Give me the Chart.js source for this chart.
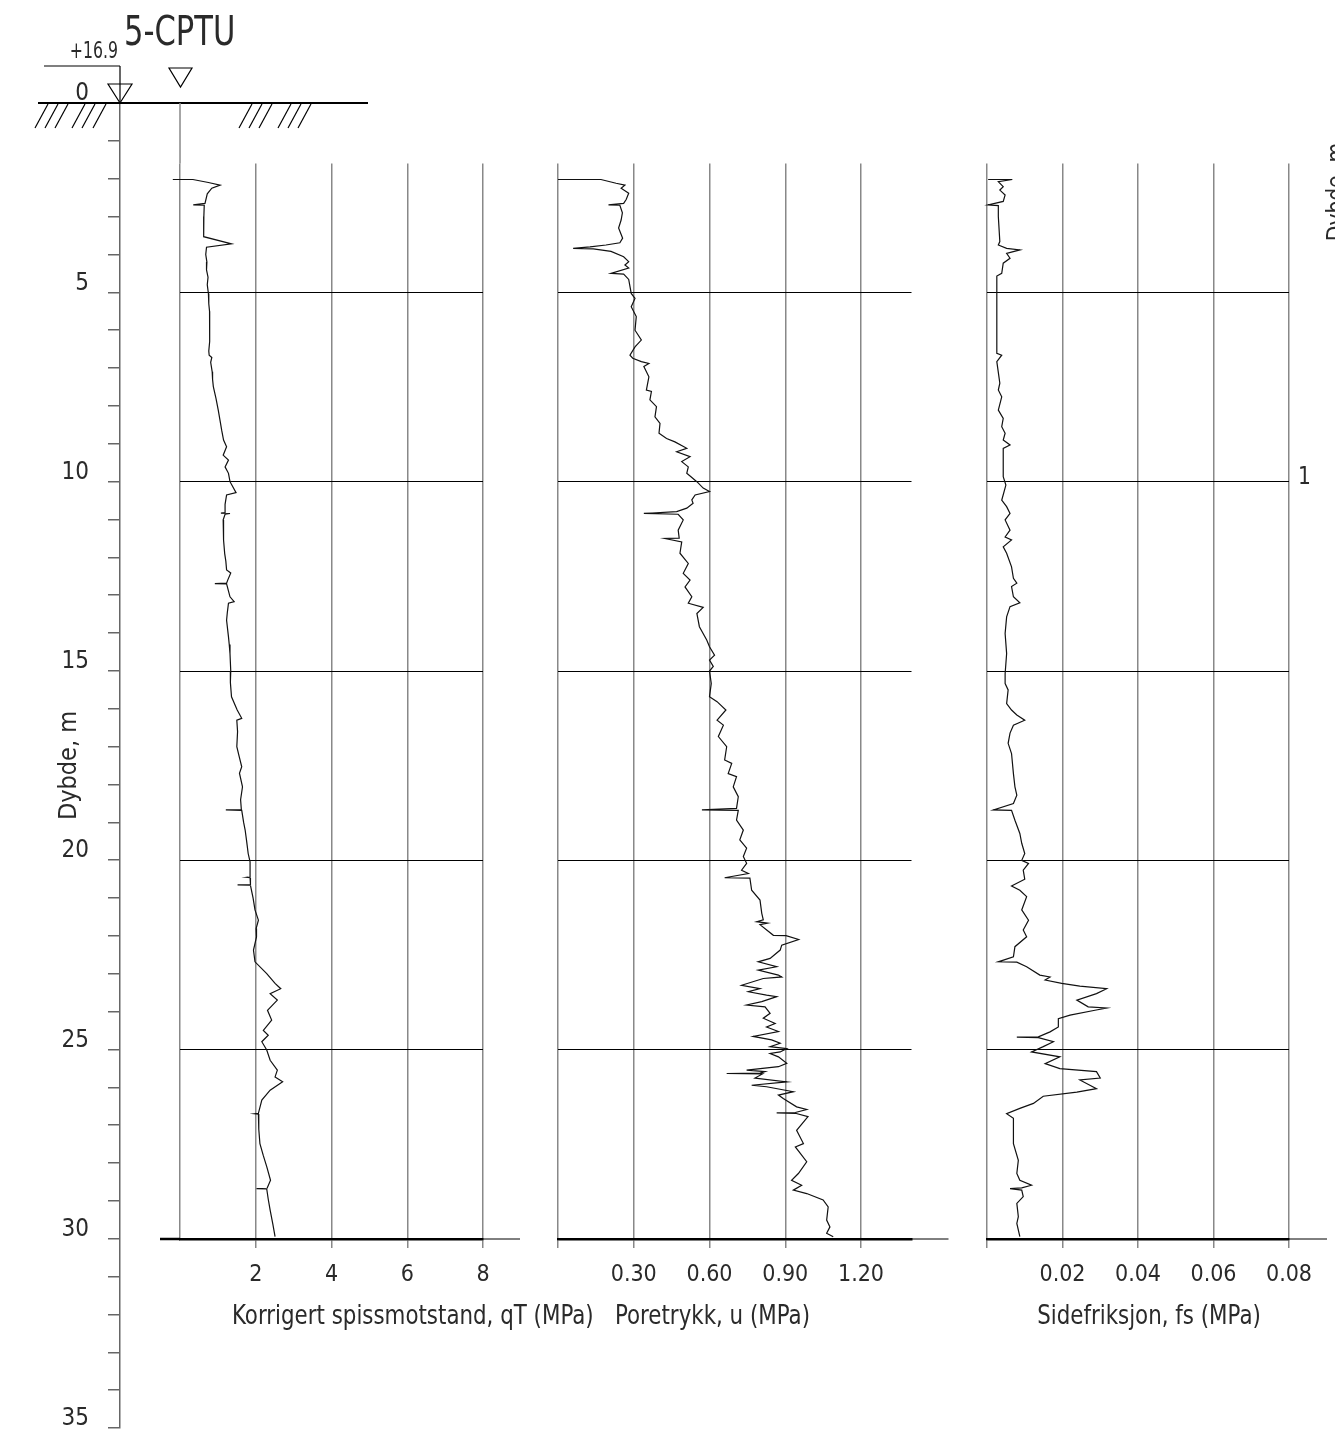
<!DOCTYPE html>
<html>
<head>
<meta charset="utf-8">
<title>5-CPTU</title>
<script src="https://cdn.jsdelivr.net/npm/chart.js@4.4.9/dist/chart.umd.min.js"></script>
<style>
  html, body { margin: 0; padding: 0; background: #fff; }
  #page { position: relative; width: 1335px; height: 1439px; overflow: hidden; }
  #page canvas { position: absolute; left: 0; top: 0; }
</style>
</head>
<body>
<div id="page">
  <canvas id="depth-chart" width="1335" height="1439"></canvas>
  <canvas id="qt-chart" width="1335" height="1439"></canvas>
  <canvas id="u-chart" width="1335" height="1439"></canvas>
  <canvas id="fs-chart" width="1335" height="1439"></canvas>
</div>
<script>
// --- data (depth in m, values in MPa) ---
const qtDepth = [2.02, 2.02, 2.10, 2.17, 2.25, 2.40, 2.65, 2.69, 2.70, 3.0, 3.3, 3.53, 3.72, 3.81, 4.0, 4.2, 4.41, 4.6, 4.8, 5.03,
  5.3, 5.5, 5.73, 6.0, 6.3, 6.55, 6.66, 6.72, 6.85, 7.1, 7.3, 7.49, 7.8, 8.11, 8.4, 8.64, 8.9, 9.08, 9.30, 9.43,
  9.61, 9.78, 10.0, 10.29, 10.35, 10.6, 10.82, 10.83, 10.84, 10.86, 11.01, 11.25, 11.54, 11.9, 12.1, 12.33, 12.41, 12.6, 12.68, 12.69,
  12.70, 13.04, 13.17, 13.21, 13.45, 13.66, 14.1, 14.3, 14.54, 15.0, 15.3, 15.68, 16.03, 16.25, 16.30, 16.6, 17.0, 17.25, 17.53, 17.7,
  18.06, 18.4, 18.66, 18.67, 18.68, 19.0, 19.2, 19.5, 19.82, 20.04, 20.44, 20.45, 20.46, 20.64, 20.65, 20.66, 21.0, 21.31, 21.58, 21.8,
  22.02, 22.37, 22.68, 22.99, 23.25, 23.39, 23.52, 23.69, 23.96, 24.22, 24.49, 24.62, 24.79, 25.01, 25.28, 25.54, 25.72, 25.85, 26.07, 26.33,
  26.68, 26.69, 26.70, 27.1, 27.48, 27.8, 28.09, 28.45, 28.66, 28.67, 28.68, 28.95, 29.24, 29.6, 29.94];
const qtValue = [-0.19, 0.34, 0.75, 1.06, 0.84, 0.72, 0.66, 0.35, 0.64, 0.63, 0.62, 0.63, 1.36, 0.70, 0.68, 0.71, 0.70, 0.74, 0.72, 0.75,
  0.76, 0.78, 0.79, 0.77, 0.79, 0.76, 0.77, 0.84, 0.81, 0.85, 0.86, 0.88, 0.95, 1.01, 1.06, 1.10, 1.15, 1.23, 1.14, 1.28,
  1.19, 1.28, 1.32, 1.48, 1.23, 1.19, 1.19, 1.08, 1.32, 1.19, 1.14, 1.16, 1.14, 1.18, 1.21, 1.23, 1.34, 1.26, 1.23, 0.92,
  1.23, 1.32, 1.43, 1.28, 1.25, 1.23, 1.28, 1.30, 1.32, 1.34, 1.33, 1.36, 1.51, 1.63, 1.50, 1.52, 1.50, 1.56, 1.63, 1.57,
  1.65, 1.60, 1.62, 1.21, 1.63, 1.68, 1.72, 1.76, 1.80, 1.85, 1.85, 1.76, 1.85, 1.86, 1.52, 1.86, 1.93, 1.98, 2.07, 2.01,
  2.02, 1.94, 1.98, 2.29, 2.51, 2.66, 2.38, 2.57, 2.31, 2.42, 2.20, 2.33, 2.16, 2.29, 2.38, 2.57, 2.51, 2.71, 2.38, 2.16,
  2.07, 1.98, 2.07, 2.08, 2.11, 2.20, 2.29, 2.39, 2.30, 2.02, 2.29, 2.33, 2.38, 2.45, 2.51];

const uDepth = [2.02, 2.02, 2.12, 2.17, 2.25, 2.38, 2.55, 2.65, 2.69, 2.70, 2.9, 3.09, 3.3, 3.57, 3.69, 3.75, 3.80, 3.84, 3.85, 3.92,
  4.06, 4.19, 4.28, 4.36, 4.50, 4.52, 4.66, 5.03, 5.16, 5.38, 5.64, 6.0, 6.26, 6.44, 6.66, 6.74, 6.83, 6.88, 6.96, 7.23,
  7.58, 7.62, 7.84, 8.02, 8.29, 8.46, 8.72, 8.86, 8.95, 9.12, 9.21, 9.34, 9.47, 9.61, 9.78, 10.0, 10.17, 10.26, 10.35, 10.48,
  10.57, 10.70, 10.79, 10.84, 10.86, 11.01, 11.28, 11.49, 11.50, 11.59, 11.89, 12.16, 12.42, 12.6, 12.78, 13.04, 13.21, 13.32, 13.48, 13.83,
  14.18, 14.36, 14.58, 14.71, 14.88, 15.0, 15.33, 15.68, 15.81, 16.03, 16.3, 16.43, 16.73, 17.0, 17.35, 17.44, 17.71, 17.79, 18.06, 18.32,
  18.63, 18.67, 18.68, 18.94, 19.2, 19.46, 19.68, 19.9, 20.08, 20.26, 20.35, 20.46, 20.47, 20.79, 21.05, 21.4, 21.57, 21.62, 21.66, 21.70,
  21.98, 21.99, 22.09, 22.24, 22.37, 22.59, 22.68, 22.81, 22.90, 23.03, 23.08, 23.12, 23.30, 23.39, 23.47, 23.56, 23.60, 23.73, 23.82, 23.87,
  24.04, 24.17, 24.31, 24.40, 24.52, 24.65, 24.74, 24.83, 24.92, 24.97, 25.06, 25.10, 25.19, 25.36, 25.45, 25.54, 25.58, 25.62, 25.63, 25.64,
  25.75, 25.85, 25.94, 25.98, 26.11, 26.20, 26.29, 26.51, 26.58, 26.66, 26.67, 26.68, 26.77, 27.13, 27.48, 27.57, 27.96, 28.27, 28.45, 28.58,
  28.71, 28.80, 28.97, 29.15, 29.50, 29.68, 29.85, 29.94];
const uValue = [0.0, 0.17, 0.23, 0.265, 0.25, 0.28, 0.27, 0.26, 0.20, 0.245, 0.255, 0.25, 0.24, 0.256, 0.245, 0.19, 0.127, 0.06, 0.14, 0.21,
  0.26, 0.28, 0.265, 0.28, 0.21, 0.26, 0.28, 0.29, 0.305, 0.29, 0.31, 0.305, 0.33, 0.305, 0.285, 0.296, 0.33, 0.36, 0.34, 0.36,
  0.35, 0.37, 0.364, 0.39, 0.384, 0.404, 0.40, 0.43, 0.463, 0.51, 0.47, 0.523, 0.49, 0.516, 0.51, 0.55, 0.575, 0.60, 0.543, 0.53,
  0.535, 0.51, 0.47, 0.34, 0.476, 0.496, 0.476, 0.48, 0.424, 0.49, 0.483, 0.516, 0.496, 0.523, 0.503, 0.53, 0.516, 0.575, 0.55, 0.56,
  0.589, 0.60, 0.62, 0.60, 0.615, 0.60, 0.607, 0.60, 0.63, 0.665, 0.63, 0.655, 0.635, 0.668, 0.66, 0.688, 0.674, 0.707, 0.694, 0.714,
  0.707, 0.57, 0.714, 0.707, 0.734, 0.72, 0.747, 0.734, 0.747, 0.727, 0.754, 0.66, 0.76, 0.767, 0.80, 0.807, 0.813, 0.787, 0.83, 0.80,
  0.853, 0.903, 0.953, 0.886, 0.88, 0.84, 0.793, 0.866, 0.793, 0.873, 0.886, 0.813, 0.727, 0.80, 0.754, 0.826, 0.866, 0.807, 0.747, 0.82,
  0.84, 0.813, 0.86, 0.826, 0.873, 0.773, 0.846, 0.88, 0.84, 0.906, 0.88, 0.84, 0.873, 0.906, 0.873, 0.747, 0.82, 0.80, 0.668, 0.81,
  0.78, 0.906, 0.767, 0.826, 0.932, 0.873, 0.892, 0.945, 0.985, 0.94, 0.866, 0.94, 0.99, 0.945, 0.972, 0.94, 0.985, 0.952, 0.925, 0.965,
  0.932, 0.985, 1.05, 1.07, 1.064, 1.077, 1.064, 1.09];

const fsDepth = [2.02, 2.02, 2.08, 2.21, 2.30, 2.43, 2.60, 2.69, 2.71, 3.0, 3.66, 3.75, 3.84, 3.88, 3.97, 4.10, 4.23, 4.50, 4.57, 6.61,
  6.66, 6.83, 7.40, 7.58, 7.76, 8.11, 8.33, 8.55, 8.72, 8.90, 9.03, 9.12, 9.87, 10.09, 10.49, 10.66, 10.84, 11.01, 11.28, 11.46,
  11.54, 11.72, 11.89, 12.25, 12.55, 12.68, 12.77, 13.04, 13.20, 13.30, 13.57, 14.01, 14.54, 15.07, 15.33, 15.50, 15.86, 16.03, 16.16, 16.30,
  16.43, 16.64, 16.91, 17.18, 17.71, 18.06, 18.28, 18.50, 18.67, 18.68, 18.94, 19.29, 19.55, 19.82, 20.00, 20.08, 20.26, 20.50, 20.68, 20.79,
  20.96, 21.31, 21.58, 21.84, 22.02, 22.28, 22.55, 22.68, 22.69, 22.81, 23.03, 23.08, 23.16, 23.25, 23.32, 23.39, 23.52, 23.69, 23.87, 23.90,
  23.96, 24.09, 24.18, 24.40, 24.53, 24.66, 24.67, 24.68, 24.79, 24.92, 25.06, 25.19, 25.37, 25.50, 25.58, 25.75, 25.80, 26.03, 26.12, 26.23,
  26.42, 26.55, 26.69, 26.81, 27.48, 27.92, 28.27, 28.45, 28.58, 28.65, 28.67, 28.71, 28.88, 29.06, 29.41, 29.59, 29.94];
const fsValue = [0.0003, 0.0067, 0.0030, 0.0043, 0.0034, 0.0048, 0.0043, 0.0003, 0.0030, 0.0030, 0.0034, 0.0030, 0.0052, 0.0087, 0.0052, 0.0061, 0.0043, 0.0039, 0.0026, 0.0026,
  0.0039, 0.0026, 0.0034, 0.0030, 0.0039, 0.0030, 0.0043, 0.0039, 0.0048, 0.0043, 0.0061, 0.0043, 0.0043, 0.0050, 0.0039, 0.0052, 0.0061, 0.0048, 0.0061, 0.0048,
  0.0065, 0.0043, 0.0052, 0.0065, 0.0070, 0.0079, 0.0065, 0.0070, 0.0087, 0.0061, 0.0052, 0.0048, 0.0052, 0.0048, 0.0048, 0.0056, 0.0052, 0.0065, 0.0079, 0.0100,
  0.0070, 0.0061, 0.0056, 0.0065, 0.0070, 0.0074, 0.0079, 0.0070, 0.0017, 0.0065, 0.0074, 0.0087, 0.0092, 0.0100, 0.0092, 0.0110, 0.0096, 0.0100, 0.0065, 0.0087,
  0.0105, 0.0092, 0.0110, 0.0096, 0.0105, 0.0074, 0.0070, 0.0030, 0.0079, 0.0105, 0.0140, 0.0167, 0.0154, 0.0198, 0.0246, 0.0317, 0.0290, 0.0238, 0.0268, 0.0317,
  0.0286, 0.0220, 0.0189, 0.0189, 0.0167, 0.0136, 0.0079, 0.0136, 0.0176, 0.0149, 0.0118, 0.0193, 0.0154, 0.0193, 0.0290, 0.0300, 0.0246, 0.0290, 0.0238, 0.0149,
  0.0123, 0.0087, 0.0052, 0.0070, 0.0070, 0.0083, 0.0079, 0.0087, 0.0118, 0.0092, 0.0061, 0.0092, 0.0096, 0.0079, 0.0083, 0.0079, 0.0087];

// --- axes ---
const depthTicks = [0, 1, 2, 3, 4, 5, 6, 7, 8, 9, 10, 11, 12, 13, 14, 15, 16, 17, 18, 19, 20, 21, 22, 23, 24, 25, 26, 27, 28, 29, 30, 31, 32, 33, 34, 35];
const depthLabels = [0, 5, 10, 15, 20, 25, 30, 35];
const depthGrid = [5, 10, 15, 20, 25];

const qtTicks = [0, 2, 4, 6, 8];
const qtLabels = ['', '2', '4', '6', '8'];
const uTicks = [0, 0.3, 0.6, 0.9, 1.2];
const uLabels = ['', '0.30', '0.60', '0.90', '1.20'];
const fsTicks = [0, 0.02, 0.04, 0.06, 0.08];
const fsLabels = ['', '0.02', '0.04', '0.06', '0.08'];

// --- layout ---
const W = 1335, H = 1439;
const FONT = '"DejaVu Sans Condensed", "Liberation Sans Narrow", sans-serif';
const TEXT = '#2a2a2a';
const GRID = '#888';
const TOP_PX = 103;         // depth 0
const BOTTOM_PX = 1239;     // depth 30
const PANEL_MIN = 1.6;      // grid lines start here
const PX_PER_M = (BOTTOM_PX - TOP_PX) / 30;
const AXIS_H = 60;

const font = (size) => ({ family: FONT, size: size });

const strokeLine = (ctx, x1, y1, x2, y2) => {
    ctx.beginPath();
    ctx.moveTo(x1, y1);
    ctx.lineTo(x2, y2);
    ctx.stroke();
};

// the drawing font is narrower than anything installed, so squeeze it a bit
const drawText = (ctx, text, x, y, size, align, sx) => {
    ctx.save();
    ctx.translate(x, y);
    ctx.scale(sx, 1);
    ctx.font = size + 'px ' + FONT;
    ctx.textAlign = align;
    ctx.textBaseline = 'alphabetic';
    ctx.fillText(text, 0, 0);
    ctx.restore();
};

const headerPlugin = {
    id: 'header',
    afterDraw(chart) {
        const ctx = chart.ctx;
        const y0 = chart.scales.y.getPixelForValue(0);
        ctx.save();
        ctx.strokeStyle = '#000';
        ctx.fillStyle = TEXT;

        // ground line
        ctx.lineWidth = 2;
        strokeLine(ctx, 38, y0, 368, y0);

        // hatches
        ctx.lineWidth = 1.2;
        [35, 45, 55, 72, 82, 93, 239, 249, 259, 278, 288, 298].forEach(x => {
            strokeLine(ctx, x, y0 + 25, x + 13, y0 + 1);
        });

        // elevation marker
        strokeLine(ctx, 44, y0 - 37, 120, y0 - 37);
        strokeLine(ctx, 120, y0 - 37, 120, y0);
        ctx.beginPath();
        ctx.moveTo(108, y0 - 19); ctx.lineTo(132, y0 - 19); ctx.lineTo(120, y0); ctx.closePath();
        ctx.stroke();
        ctx.beginPath();
        ctx.moveTo(169, y0 - 35); ctx.lineTo(192, y0 - 35); ctx.lineTo(180.5, y0 - 16); ctx.closePath();
        ctx.stroke();

        drawText(ctx, '+16.9', 118, 58, 23, 'right', 0.76);
        drawText(ctx, '5-CPTU', 124, 45, 40, 'left', 0.85);

        // neighbouring log cut at the right edge
        drawText(ctx, '1', 1298, 484, 25, 'left', 0.9);
        ctx.save();
        ctx.translate(1344, 192);
        ctx.rotate(-Math.PI / 2);
        drawText(ctx, 'Dybde, m', 0, 0, 25, 'center', 0.9);
        ctx.restore();

        ctx.restore();
    }
};

const depthChart = new Chart(document.getElementById('depth-chart'), {
    type: 'line',
    data: { datasets: [] },
    options: {
        responsive: false,
        animation: false,
        events: [],
        layout: { padding: { left: 0, right: W - 121, top: TOP_PX, bottom: H - 1428 } },
        plugins: { legend: { display: false }, tooltip: { enabled: false } },
        scales: {
            x: { type: 'linear', display: false, min: 0, max: 1 },
            y: {
                type: 'linear',
                position: 'left',
                reverse: true,
                min: 0,
                max: 35,
                afterFit(s) { s.width = 120; s.paddingTop = 0; s.paddingBottom = 0; },
                afterBuildTicks(s) { s.ticks = depthTicks.map(v => ({ value: v })); },
                ticks: {
                    autoSkip: false,
                    callback: (v) => depthLabels.includes(v) ? String(v) : '',
                    font: font(24),
                    color: TEXT,
                    padding: 19,
                    labelOffset: -9
                },
                grid: { drawOnChartArea: false, drawTicks: true, tickLength: 12, color: '#666', lineWidth: 1.5 },
                border: { display: true, color: '#666', width: 1.5 },
                title: { display: true, text: 'Dybde, m', font: font(25), color: TEXT, padding: { top: 54 } }
            }
        }
    },
    plugins: [headerPlugin]
});

const panelChart = (id, cfg) => {
    const decor = {
        id: 'panelDecor',
        afterDraw(chart) {
            const ctx = chart.ctx;
            const area = chart.chartArea;
            const xs = chart.scales.x, ys = chart.scales.y;
            ctx.save();
            if (cfg.bore) {
                ctx.strokeStyle = GRID;
                ctx.lineWidth = 1.5;
                strokeLine(ctx, xs.getPixelForValue(0), ys.getPixelForValue(0), xs.getPixelForValue(0), area.top);
            }
            ctx.strokeStyle = '#000';
            if (cfg.extLeft) {
                ctx.lineWidth = 2.5;
                strokeLine(ctx, area.left - cfg.extLeft, area.bottom, area.left, area.bottom);
            }
            ctx.lineWidth = 1;
            strokeLine(ctx, area.right, area.bottom, area.right + cfg.extRight, area.bottom);

            ctx.fillStyle = TEXT;
            drawText(ctx, cfg.title, cfg.titleX, 1324, 27, cfg.titleAlign, 0.88);
            ctx.restore();
        }
    };

    return new Chart(document.getElementById(id), {
        type: 'line',
        data: {
            datasets: [{
                data: cfg.depth.map((d, i) => ({ x: cfg.values[i], y: d })),
                borderColor: '#111',
                borderWidth: 1.2,
                pointRadius: 0,
                tension: 0,
                clip: false
            }]
        },
        options: {
            responsive: false,
            animation: false,
            events: [],
            indexAxis: 'y',
            layout: {
                padding: {
                    left: cfg.left,
                    right: W - cfg.right,
                    top: TOP_PX + PANEL_MIN * PX_PER_M,
                    bottom: H - BOTTOM_PX - AXIS_H
                }
            },
            plugins: { legend: { display: false }, tooltip: { enabled: false } },
            scales: {
                x: {
                    type: 'linear',
                    position: 'bottom',
                    min: 0,
                    max: cfg.max,
                    afterFit(s) { s.height = AXIS_H; s.paddingLeft = 0; s.paddingRight = 0; },
                    afterBuildTicks(s) { s.ticks = cfg.ticks.map(v => ({ value: v })); },
                    ticks: {
                        autoSkip: false,
                        maxRotation: 0,
                        callback: (v, i) => cfg.labels[i],
                        font: font(23),
                        color: TEXT,
                        padding: 13
                    },
                    grid: {
                        color: GRID,
                        lineWidth: 1.5,
                        drawTicks: true,
                        tickLength: 9,
                        tickColor: (c) => (cfg.bore && c.tick && c.tick.value === 0) ? 'rgba(0,0,0,0)' : GRID
                    },
                    border: { display: true, color: '#000', width: 2.5 }
                },
                y: {
                    type: 'linear',
                    position: 'left',
                    reverse: true,
                    min: PANEL_MIN,
                    max: 30,
                    afterFit(s) { s.width = 0; s.paddingTop = 0; s.paddingBottom = 0; },
                    afterBuildTicks(s) { s.ticks = depthGrid.map(v => ({ value: v })); },
                    ticks: { display: false },
                    grid: { color: '#000', lineWidth: 1, drawTicks: false },
                    border: { display: false }
                }
            }
        },
        plugins: [decor]
    });
};

panelChart('qt-chart', {
    depth: qtDepth, values: qtValue, ticks: qtTicks, labels: qtLabels,
    left: 180, right: 483, max: 8, bore: true, extLeft: 20, extRight: 37,
    title: 'Korrigert spissmotstand, qT (MPa)', titleAlign: 'left', titleX: 232
});
panelChart('u-chart', {
    depth: uDepth, values: uValue, ticks: uTicks, labels: uLabels,
    left: 558, right: 911.5, max: 1.4, bore: false, extLeft: 0, extRight: 37,
    title: 'Poretrykk, u (MPa)', titleAlign: 'right', titleX: 810
});
panelChart('fs-chart', {
    depth: fsDepth, values: fsValue, ticks: fsTicks, labels: fsLabels,
    left: 987, right: 1289, max: 0.08, bore: false, extLeft: 0, extRight: 38,
    title: 'Sidefriksjon, fs (MPa)', titleAlign: 'center', titleX: 1149
});
</script>
</body>
</html>
